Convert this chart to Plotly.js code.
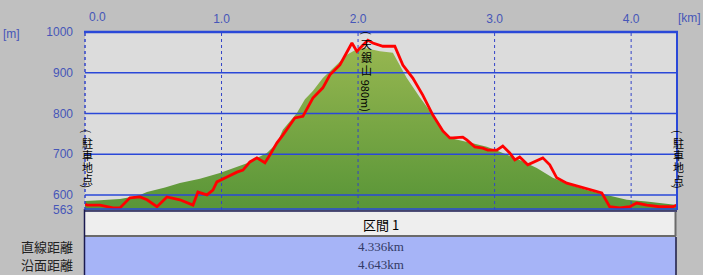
<!DOCTYPE html>
<html><head><meta charset="utf-8">
<script src="https://cdn.plot.ly/plotly-3.0.1.min.js"></script>
<style>html,body{margin:0;padding:0;background:#c0c0c0;overflow:hidden}#chart{width:703px;height:275px;}</style>
</head><body><div id="chart"></div>
<script>
// ---- data ----
const terrainKm  = [0.000,0.110,0.256,0.329,0.403,0.454,0.586,0.695,0.842,0.988,1.186,1.332,1.406,1.449,1.552,1.611,1.669,1.742,1.845,1.918,1.977,2.050,2.160,2.255,2.357,2.452,2.548,2.621,2.672,2.840,2.943,3.038,3.184,3.309,3.426,3.551,3.675,3.821,3.968,4.114,4.336];
const terrainAlt = [585,587,590,594,600,607,618,629,640,654,678,703,727,760,801,835,855,887,920,944,955,961,953,949,887,840,796,757,740,727,718,706,686,666,642,625,612,600,588,584,575];
const trackKm  = [0.000,0.015,0.110,0.205,0.256,0.329,0.403,0.454,0.527,0.600,0.695,0.791,0.827,0.893,0.937,0.966,1.040,1.113,1.157,1.208,1.259,1.318,1.354,1.406,1.449,1.501,1.537,1.596,1.647,1.669,1.742,1.794,1.867,1.925,1.955,1.991,2.035,2.072,2.108,2.182,2.269,2.328,2.401,2.474,2.548,2.621,2.672,2.694,2.767,2.796,2.855,2.914,2.950,3.016,3.060,3.111,3.148,3.184,3.243,3.294,3.353,3.404,3.455,3.529,3.624,3.719,3.785,3.843,3.917,3.990,4.041,4.114,4.209,4.305,4.336];
const trackAlt = [578,575,575,568,568,593,595,588,571,595,588,575,607,600,612,632,644,656,661,681,691,679,698,728,747,772,789,793,826,838,863,895,919,953,973,953,968,980,973,965,965,919,887,845,796,757,740,740,742,735,718,715,710,710,720,703,686,693,674,681,691,674,642,629,620,612,605,571,568,571,580,575,571,571,575];
const altTicks = [563,600,700,800,900,1000];
const gridAlts = [600,700,800,900];
const kmTicks = [0,1,2,3,4];
const kmTickText = ['0.0','1.0','2.0','3.0','4.0'];
const kmMax = 4.336;
const altMin = 563, altMax = 1000;
const endLabel = '駐車地点';
const summitName = '天銀山';
const summitHeight = '980m';
const summitKm = 2.06;
const sectionLabel = '区間 1';
const rowLabels = ['直線距離','沿面距離'];
const rowValues = ['4.336km','4.643km'];
const xUnit = '[km]', yUnit = '[m]';

// ---- helpers (pixel layout of the 703x275 frame) ----
const PL = 85, PR = 677, PT = 32, PB = 210;
const px = p => (p - PL) / (PR - PL);
const py = p => (PB - p) / (PB - PT);
const axisFont = {family: 'Liberation Sans, Arial, sans-serif', size: 12, color: '#4656b8'};
const cjk = 'Noto Sans CJK JP, sans-serif';
const BLUE = '#2a48d8';

// grid traces
const hx = [], hy = [];
gridAlts.forEach(a => { hx.push(0, kmMax, null); hy.push(a, a, null); });
const vx = [], vy = [];
kmTicks.slice(1).forEach(k => { vx.push(k, k, null); vy.push(altMin, altMax, null); });

const traces = [
  {x: terrainKm, y: terrainAlt, mode: 'none', fill: 'tozeroy',
   fillgradient: {type: 'vertical', start: 575, stop: 960,
     colorscale: [[0, '#5a9638'], [1, '#96b650']]},
   hoverinfo: 'skip'},
  {x: hx, y: hy, mode: 'lines', line: {color: BLUE, width: 1.5}, hoverinfo: 'skip'},
  {x: vx, y: vy, mode: 'lines', line: {color: '#3344c8', width: 1, dash: 'dot'}, hoverinfo: 'skip'},
  {x: trackKm, y: trackAlt, mode: 'lines', line: {color: '#ff0000', width: 2.8}, hoverinfo: 'skip'}
];

const ann = [];
// first tick label (drawn shifted right like the original)
ann.push({text: kmTickText[0], xref: 'x', x: kmTicks[0], xanchor: 'left', xshift: 2,
  yref: 'paper', y: py(17), yanchor: 'middle', showarrow: false, font: axisFont});
ann.push({text: xUnit, xref: 'paper', x: px(703), xanchor: 'right', yref: 'paper', y: py(18),
  yanchor: 'middle', showarrow: false, font: axisFont});
ann.push({text: yUnit, xref: 'paper', x: px(1), xanchor: 'left', yref: 'paper', y: py(34),
  yanchor: 'middle', showarrow: false, font: axisFont});

// vertical stacked labels
function vertical(xref, xv, chars, ys, tail) {
  const f = {family: cjk, size: 11, color: '#000'};
  const base = {xref: xref, x: xv, yref: 'paper', xanchor: 'center', yanchor: 'middle',
    showarrow: false, font: f, borderpad: 0};
  ann.push(Object.assign({}, base, {text: '(', textangle: 90, y: py(ys[0])}));
  chars.split('').forEach((c, i) => ann.push(Object.assign({}, base, {text: c, y: py(ys[i + 1])})));
  ann.push(Object.assign({}, base, {text: tail || ')', textangle: 90, y: py(ys[ys.length - 1])}));
}
vertical('paper', px(87), endLabel, [131.5, 142.5, 155, 167, 178.5, 186.5]);
vertical('paper', px(678), endLabel, [132, 142.5, 155, 167, 179.5, 187]);
vertical('x', summitKm, summitName, [33.5, 43.5, 57, 70, 96], summitHeight + ')');

// table texts
ann.push({text: sectionLabel, xref: 'paper', x: 0.5, xanchor: 'center', yref: 'paper', y: py(224),
  yanchor: 'middle', showarrow: false, font: {family: cjk, size: 13, color: '#000'}});
[246, 264].forEach((yy, i) => {
  ann.push({text: rowLabels[i], xref: 'paper', x: px(75), xanchor: 'right', yref: 'paper', y: py(yy),
    yanchor: 'middle', showarrow: false, font: {family: cjk, size: 13, color: '#222'}});
  ann.push({text: rowValues[i], xref: 'paper', x: 0.5, xanchor: 'center', yref: 'paper', y: py(yy),
    yanchor: 'middle', showarrow: false, font: {family: 'Liberation Serif, serif', size: 13, color: '#333a66'}});
});

const shapes = [
  // table backgrounds
  {type: 'rect', xref: 'paper', yref: 'paper', x0: px(85), x1: px(676), y0: py(211), y1: py(236),
   fillcolor: '#eeeeee', line: {width: 0}, layer: 'above'},
  {type: 'rect', xref: 'paper', yref: 'paper', x0: px(85), x1: px(676), y0: py(237), y1: py(276),
   fillcolor: '#a6b4f7', line: {width: 0}, layer: 'above'},
  {type: 'line', xref: 'paper', yref: 'paper', x0: px(85), x1: px(676), y0: py(236), y1: py(236),
   line: {color: '#6a6a6a', width: 2}, layer: 'above'},
  {type: 'line', xref: 'paper', yref: 'paper', x0: px(675.5), x1: px(675.5), y0: py(212), y1: py(236),
   line: {color: '#6a6a6a', width: 2}, layer: 'above'},
  {type: 'line', xref: 'paper', yref: 'paper', x0: px(676), x1: px(676), y0: py(237), y1: py(276),
   line: {color: '#1a1a40', width: 1.5}, layer: 'above'},
  {type: 'line', xref: 'paper', yref: 'paper', x0: px(84.5), x1: px(84.5), y0: py(209), y1: py(276),
   line: {color: '#1a1a50', width: 1.5}, layer: 'above'},
  // plot borders
  {type: 'line', xref: 'paper', yref: 'paper', x0: px(84), x1: px(678), y0: 1, y1: 1,
   line: {color: BLUE, width: 2.5}, layer: 'above'},
  {type: 'line', xref: 'paper', yref: 'paper', x0: 1, x1: 1, y0: 0, y1: 1,
   line: {color: BLUE, width: 2}, layer: 'above'},
  {type: 'line', xref: 'paper', yref: 'paper', x0: 0, x1: 1, y0: py(209), y1: py(209),
   line: {color: BLUE, width: 1.5}, layer: 'above'},
  {type: 'line', xref: 'paper', yref: 'paper', x0: 0, x1: 1, y0: py(211), y1: py(211),
   line: {color: '#1a1a50', width: 1.5}, layer: 'above'},
  {type: 'line', xref: 'paper', yref: 'paper', x0: 0, x1: 0, y0: 0, y1: 1,
   line: {color: '#3344c8', width: 1.5, dash: 'dot'}, layer: 'above'}
];

const layout = {
  width: 703, height: 275,
  margin: {l: PL, r: 703 - PR, t: PT, b: 275 - PB, pad: 0},
  paper_bgcolor: '#c0c0c0', plot_bgcolor: '#dcdcdc',
  showlegend: false,
  xaxis: {range: [0, kmMax], side: 'top', tickmode: 'array', tickvals: kmTicks.slice(1),
    ticktext: kmTickText.slice(1), showgrid: false, zeroline: false, showline: false, ticks: '',
    tickfont: axisFont, ticklabelstandoff: 6, fixedrange: true},
  yaxis: {range: [altMin, altMax], tickmode: 'array', tickvals: altTicks,
    ticktext: altTicks.map(String), showgrid: false, zeroline: false, showline: false, ticks: '',
    tickfont: axisFont, ticklabelstandoff: 11, fixedrange: true},
  annotations: ann,
  shapes: shapes
};
Plotly.newPlot('chart', traces, layout, {staticPlot: true, displayModeBar: false});
</script>
</body></html>
